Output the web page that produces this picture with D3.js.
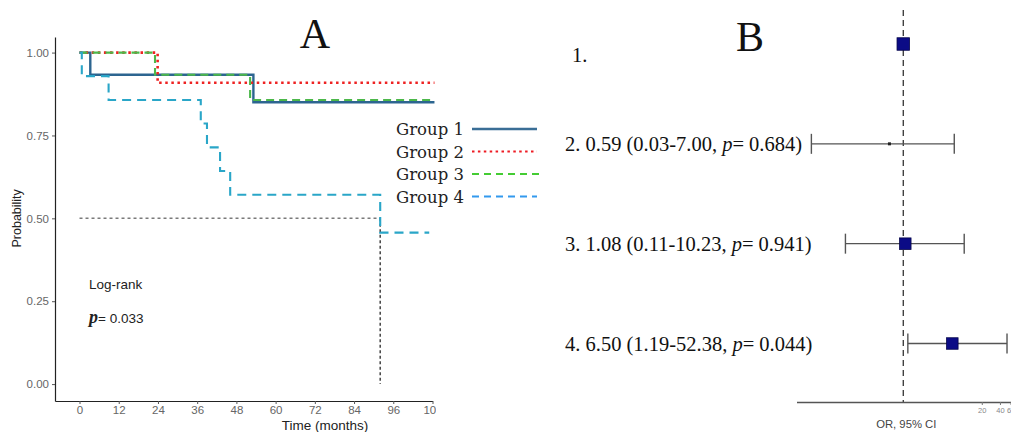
<!DOCTYPE html>
<html>
<head>
<meta charset="utf-8">
<script src="https://cdn.jsdelivr.net/npm/d3@7"></script>
<style>
  html, body { margin: 0; padding: 0; background: #fff; }
  svg { display: block; }
</style>
</head>
<body>
<svg id="chart" width="1011" height="432"></svg>
<script>
// ---------------- DATA ----------------
// Panel A: Kaplan-Meier step curves (time in months, survival probability)
const groupNames = ["Group 1", "Group 2", "Group 3", "Group 4"];
const g1Times = [0, 3.3, 53.2, 108.6];
const g1Surv  = [1, 0.933, 0.85, 0.85];
const g2Times = [0, 23.9, 108.6];
const g2Surv  = [1, 0.909, 0.909];
const g3Times = [0, 23.1, 52.2, 108.6];
const g3Surv  = [1, 0.933, 0.857, 0.857];
const g4Times = [0, 0.7, 8.9, 37.1, 39.0, 43.0, 46.1, 92.0, 107.0];
const g4Surv  = [1, 0.929, 0.857, 0.786, 0.714, 0.643, 0.571, 0.457, 0.457];
const medianTime = 92.0;
const medianProb = 0.5;
const xTicksA = [0, 12, 24, 36, 48, 60, 72, 84, 96, 108];
const yTicksA = [0, 0.25, 0.5, 0.75, 1.0];
const logRankP = "0.033";

// Panel B: forest plot (odds ratios with 95% CI)
const rowIds = [1, 2, 3, 4];
const orValues = [1, 0.59, 1.08, 6.50];
const ciLow  = [null, 0.03, 0.11, 1.19];
const ciHigh = [null, 7.00, 10.23, 52.38];
const pValues = [null, "0.684", "0.941", "0.044"];
const xTicksB = [20, 40, 60];

// ---------------- DRAW ----------------
const svg = d3.select("#chart");
const sans = "'Liberation Sans', Arial, sans-serif";
const serif = "'Liberation Serif', 'Times New Roman', serif";

// ===== Panel A =====
const xA = d3.scaleLinear().domain([-7.5, 108]).range([55, 432.5]);
const yA = d3.scaleLinear().domain([-0.051, 1.047]).range([401, 37]);

svg.append("defs").append("clipPath").attr("id", "clipA")
  .append("rect").attr("x", 0).attr("y", 0).attr("width", 436).attr("height", 432);

const gA = svg.append("g").attr("clip-path", "url(#clipA)");

// median reference lines
gA.append("line")
  .attr("x1", xA(0)).attr("x2", xA(medianTime))
  .attr("y1", yA(medianProb)).attr("y2", yA(medianProb))
  .attr("stroke", "#7a7a7a").attr("stroke-width", 1.5).attr("stroke-dasharray", "3,3");
gA.append("line")
  .attr("x1", xA(medianTime)).attr("x2", xA(medianTime))
  .attr("y1", yA(medianProb)).attr("y2", yA(0))
  .attr("stroke", "#444").attr("stroke-width", 1.5).attr("stroke-dasharray", "3,2.5");

const groups = [
  { name: groupNames[0], t: g1Times, s: g1Surv, color: "#2c6590", dash: null, width: 2.4, legendColor: "#3a6e96" },
  { name: groupNames[1], t: g2Times, s: g2Surv, color: "#ee2222", dash: "2.5,3.6", width: 2.6, legendColor: "#ee1c24" },
  { name: groupNames[2], t: g3Times, s: g3Surv, color: "#4cb84a", dash: "8,5", width: 2.1, legendColor: "#44cc33" },
  { name: groupNames[3], t: g4Times, s: g4Surv, color: "#2aa6c8", dash: "9,6", width: 2.1, legendColor: "#3399ee" }
];

const stepLine = d3.line()
  .x(d => xA(d[0])).y(d => yA(d[1]))
  .curve(d3.curveStepAfter);

groups.forEach(g => {
  const pts = g.t.map((t, i) => [t, g.s[i]]);
  gA.append("path")
    .datum(pts)
    .attr("d", stepLine)
    .attr("fill", "none")
    .attr("stroke", g.color)
    .attr("stroke-width", g.width)
    .attr("stroke-dasharray", g.dash);
});

// axes A
const axisYA = d3.axisLeft(yA).tickValues(yTicksA).tickFormat(d3.format(".2f")).tickSize(3).tickSizeOuter(0).tickPadding(3);
const gyA = svg.append("g").attr("transform", `translate(${xA(-7.5)},0)`).call(axisYA);
gyA.select(".domain").attr("stroke", "#222").attr("stroke-width", 1.2);
gyA.selectAll(".tick line").attr("stroke", "#555");
gyA.selectAll(".tick text").attr("fill", "#666").attr("font-family", sans).attr("font-size", 11.5);

const axisXA = d3.axisBottom(xA).tickValues(xTicksA).tickSize(3).tickSizeOuter(0).tickPadding(1.5);
const gxA = svg.append("g").attr("clip-path", "url(#clipA)")
  .append("g").attr("transform", `translate(0,${yA(-0.051)})`).call(axisXA);
gxA.select(".domain").attr("stroke", "#222").attr("stroke-width", 1.2);
gxA.selectAll(".tick line").attr("stroke", "#555");
gxA.selectAll(".tick text").attr("fill", "#666").attr("font-family", sans).attr("font-size", 11.5);

// axis titles A
svg.append("text")
  .attr("transform", `translate(17,${yA(0.5)}) rotate(-90)`)
  .attr("text-anchor", "middle").attr("dominant-baseline", "central")
  .attr("font-family", sans).attr("font-size", 12.5).attr("fill", "#222")
  .text("Probability");
svg.append("text")
  .attr("x", 325).attr("y", 430)
  .attr("text-anchor", "middle")
  .attr("font-family", sans).attr("font-size", 13.5).attr("fill", "#222")
  .text("Time (months)");

// log-rank annotation
svg.append("text")
  .attr("x", 89).attr("y", 289)
  .attr("font-family", sans).attr("font-size", 13.5).attr("fill", "#222")
  .text("Log-rank");
const pt = svg.append("text").attr("x", 89).attr("y", 323).attr("fill", "#222");
pt.append("tspan").attr("font-family", serif).attr("font-style", "italic").attr("font-weight", "bold")
  .attr("font-size", 18).text("p");
pt.append("tspan").attr("font-family", sans).attr("font-size", 13.5).text("= " + logRankP);

// panel title A
svg.append("text").attr("x", 315).attr("y", 48).attr("text-anchor", "middle")
  .attr("font-family", serif).attr("font-size", 42).attr("fill", "#111").text("A");

// legend
const legendRowY = d3.scalePoint().domain(groupNames).range([129, 196.5]);
groups.forEach(g => {
  const y = legendRowY(g.name);
  svg.append("text")
    .attr("x", 396).attr("y", y + 6)
    .attr("font-family", "'DejaVu Serif', serif").attr("font-size", 16.5).attr("fill", "#222")
    .text(g.name);
  svg.append("line")
    .attr("x1", 472).attr("x2", g.name === groupNames[2] ? 541 : 537)
    .attr("y1", y).attr("y2", y)
    .attr("stroke", g.legendColor)
    .attr("stroke-width", g.dash ? 2.2 : 2.4)
    .attr("stroke-dasharray", g.name === groupNames[1] ? "2.5,3.4" : (g.dash ? "7,5" : null));
});

// ===== Panel B =====
const xB = d3.scaleLog().domain([0.017, 90]).range([796.5, 1021.2]);
const yB = d3.scalePoint().domain(rowIds).range([44, 343.5]);
const axisYB = 402;

// panel title B
svg.append("text").attr("x", 750).attr("y", 51).attr("text-anchor", "middle")
  .attr("font-family", serif).attr("font-size", 42).attr("fill", "#111").text("B");

// reference dashed line at OR = 1
svg.append("line")
  .attr("x1", xB(1)).attr("x2", xB(1))
  .attr("y1", 10).attr("y2", axisYB)
  .attr("stroke", "#333").attr("stroke-width", 1.3).attr("stroke-dasharray", "6,4");

// bottom axis B
const axisXB = d3.axisBottom(xB).tickValues(xTicksB).tickFormat(d3.format("d")).tickSize(3).tickSizeOuter(0).tickPadding(3);
const gxB = svg.append("g").attr("transform", `translate(0,${axisYB})`).call(axisXB);
gxB.select(".domain").attr("stroke", "#555").attr("stroke-width", 1.3);
gxB.selectAll(".tick line").attr("stroke", "#777");
gxB.selectAll(".tick text").attr("fill", "#888").attr("font-family", sans).attr("font-size", 7.5);

svg.append("text")
  .attr("x", xB(1) + 3).attr("y", 428)
  .attr("text-anchor", "middle")
  .attr("font-family", sans).attr("font-size", 11.3).attr("fill", "#444")
  .text("OR, 95% CI");

// whiskers, markers, labels
const markerSize = [12.5, 3, 11.5, 11.5];
rowIds.forEach((id, i) => {
  const y = yB(id);
  if (ciLow[i] != null) {
    svg.append("line").attr("x1", xB(ciLow[i])).attr("x2", xB(ciHigh[i]))
      .attr("y1", y).attr("y2", y).attr("stroke", "#555").attr("stroke-width", 1.4);
    [ciLow[i], ciHigh[i]].forEach(v => {
      svg.append("line").attr("x1", xB(v)).attr("x2", xB(v))
        .attr("y1", y - 10).attr("y2", y + 10).attr("stroke", "#555").attr("stroke-width", 1.4);
    });
  }
  const s = markerSize[i];
  svg.append("rect")
    .attr("x", xB(orValues[i]) - s / 2).attr("y", y - s / 2)
    .attr("width", s).attr("height", s)
    .attr("fill", s > 5 ? "#0b0b86" : "#222")
    .attr("stroke", s > 5 ? "#05054a" : "none").attr("stroke-width", 0.8);

  const t = svg.append("text")
    .attr("x", i === 0 ? 572 : 565)
    .attr("y", y + (i === 0 ? 17.5 : 7.5))
    .attr("font-family", serif).attr("font-size", 20.5).attr("fill", "#111");
  if (ciLow[i] == null) {
    t.text(id + ".");
  } else {
    t.append("tspan").text(`${id}. ${orValues[i].toFixed(2)} (${ciLow[i].toFixed(2)}-${ciHigh[i].toFixed(2)}, `);
    t.append("tspan").attr("font-style", "italic").text("p");
    t.append("tspan").text(`= ${pValues[i]})`);
  }
});
</script>
</body>
</html>
